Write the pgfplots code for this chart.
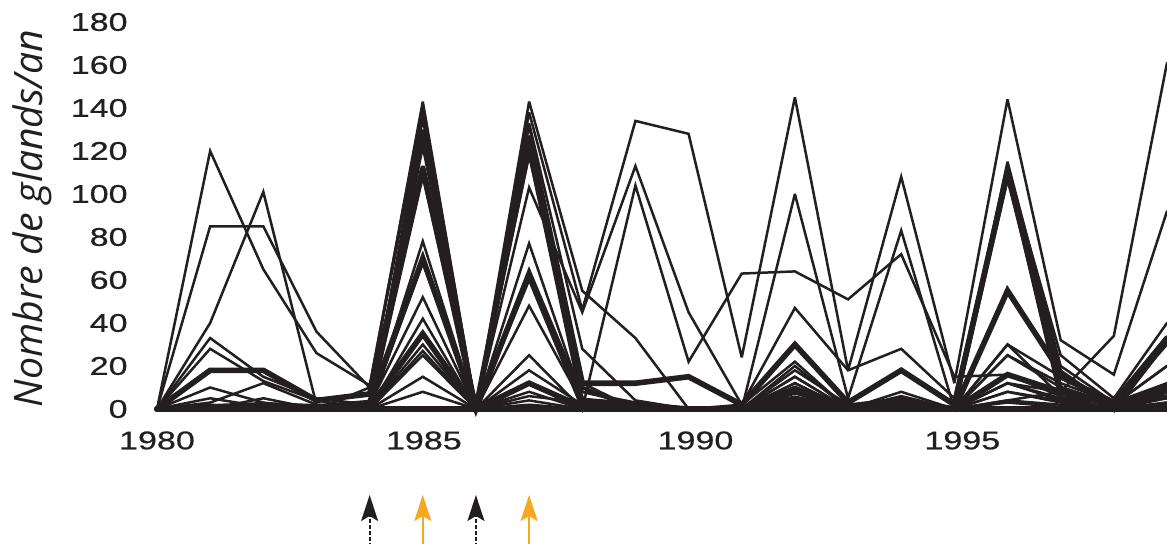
\documentclass[border=0pt]{standalone}
\usepackage{fontspec}
\usepackage{pgfplots}
\pgfplotsset{compat=1.18}
\usepackage{pgfplotstable}
\usetikzlibrary{arrows.meta}
\newfontfamily\tickfont[FakeStretch=1.33,FakeBold=0.6]{Liberation Sans}
\newfontfamily\labelfont{Open Sans}
\definecolor{ink}{HTML}{231F20}
\definecolor{gold}{RGB}{246,168,33}

\pgfplotstableread{
year P   A   B   C   D   E   H   G   I   J   K   L   M   N   O   R   U   Q   V   W   T1  T2  T3  Z
1980 0   0   0   0   0   0   0   0   0   0   0   0   0   0   0   0   0   0   0   0   0   0   0   0
1981 0   120 85  40  33  28  3   10  0   5   0   2   0   0   0   0   0   0   0   0   18  1   1   0
1982 0   65  85  101 15  13  12  3   5   1   0   0   0   0   0   0   0   0   0   2   18  2   1   0
1983 0   26  36  2   5   4   2   0   0   0   0   0   0   0   0   0   0   0   0   0   4   1   0   0
1984 10  11  10  0   2   0   0   0   0   2   0   0   0   0   0   0   0   0   0   0   7   3   1   0
1985 143 141 138 135 130 127 108 122 68  52  42  30  25  15  8   27  0   78  125 113 112 70  35  0
1986 0   0   1   0   0   0   0   0   0   0   0   0   0   0   0   0   0   0   0   0   0   0   0   0
1987 138 143 133 103 127 118 132 77  48  25  18  12  8   4   0   6   2   60  122 120 127 63  12  0
1988 46  55  28  45  12  8   8   5   3   0   2   0   0   0   0   3   0   0   10  3   12  4   1   0
1989 134 33  4   113 0   2   3   0   0   0   0   0   0   0   0   1   0   104 0   0   12  2   0   0
1990 128 0   0   45  0   0   0   0   0   0   0   0   0   0   0   0   0   22  0   0   15  0   0   0
1991 24  0   2   2   0   0   0   0   0   0   0   0   0   0   0   0   0   63  0   0   2   0   0   0
1992 145 100 47  22  18  15  10  12  8   5   20  3   15  2   0   12  5   64  10  4   30  8   5   0
1993 18  5   18  0   2   0   0   0   0   0   0   0   0   0   0   0   0   51  0   0   3   1   0   0
1994 108 83  28  8   5   3   2   5   1   0   6   0   0   0   0   3   0   72  2   0   18  4   3   0
1995 12  0   5   0   0   0   0   0   0   0   0   0   0   0   0   0   0   15  0   0   2   0   0   0
1996 144 115 112 30  25  12  114 8   30  12  8   4   25  3   0   12  4   16  110 108 110 55  16  0
1997 32  20  25  15  10  5   10  4   6   4   3   2   12  1   0   8   8   6   5   10  15  17  8   0
1998 16  3   5   2   0   0   2   0   0   0   0   0   3   0   0   2   34  2   0   2   3   0   2   0
1999 92  10  40  20  5   12  5   3   3   2   2   0   12  0   0   20  161 30  8   6   33  32  10  0
}\data

\newcommand{\tickfontsz}{\tickfont\fontsize{12.8}{14}\selectfont}

\begin{document}
\begin{tikzpicture}
\begin{axis}[
  width=505pt, height=193.5pt, scale only axis,
  xmin=1980, xmax=1999, ymin=0, ymax=180,
  clip=false,
  axis line style={draw=none},
  major tick length=0pt,
  ytick={0,20,...,180},
  xtick=\empty,
  /pgf/number format/assume math mode=true,
  tick label style={font=\tickfontsz, text=ink, inner sep=0pt},
  yticklabel style={anchor=east, xshift=-14.5pt},
  every axis plot/.append style={miter limit=4},
]
\coordinate (O) at (axis cs:1980,0);
\pgfplotsinvokeforeach{P,A,B,C,D,E,H,G,I,J,K,L,M,N,O,R,U,Q}{
  \addplot[ink, line width=1.25pt, line cap=round] table[x=year,y=#1]{\data};
}
\pgfplotsinvokeforeach{V,W}{
  \addplot[ink, line width=1.9pt, line cap=round] table[x=year,y=#1]{\data};
}
\pgfplotsinvokeforeach{T1,T2,T3}{
  \addplot[ink, line width=2.8pt, line cap=round] table[x=year,y=#1]{\data};
}
\addplot[ink, line width=3pt, line cap=round] table[x=year,y=Z]{\data};

\node[anchor=north, inner sep=0pt, font=\tickfontsz, text=ink] at ([yshift=-11pt]axis cs:1980,0) {1980};
\node[anchor=north, inner sep=0pt, font=\tickfontsz, text=ink] at ([yshift=-11pt]axis cs:1985.02,0) {1985};
\node[anchor=north, inner sep=0pt, font=\tickfontsz, text=ink] at ([yshift=-11pt]axis cs:1990.13,0) {1990};
\node[anchor=north, inner sep=0pt, font=\tickfontsz, text=ink] at ([yshift=-11pt]axis cs:1995.15,0) {1995};

\draw[ink, line width=0.9pt, dash pattern=on 1.8pt off 1.2pt,
  -{Stealth[length=13pt,width=8.5pt,inset=2.5pt]}] (axis cs:1984,-64) -- (axis cs:1984,-40);
\draw[ink, line width=0.9pt, dash pattern=on 1.8pt off 1.2pt,
  -{Stealth[length=13pt,width=8.5pt,inset=2.5pt]}] (axis cs:1986,-64) -- (axis cs:1986,-40);
\draw[gold, line width=1.1pt,
  -{Stealth[length=13pt,width=8.5pt,inset=2.5pt]}] (axis cs:1985,-64) -- (axis cs:1985,-40);
\draw[gold, line width=1.1pt,
  -{Stealth[length=13pt,width=8.5pt,inset=2.5pt]}] (axis cs:1987,-64) -- (axis cs:1987,-40);

\node[rotate=90, anchor=base, font=\labelfont\itshape\fontsize{19.6}{22}\selectfont, text=ink]
  at ([xshift=-57pt]axis cs:1980,88.5) {Nombre de glands/an};
\end{axis}
\pgfresetboundingbox
\path ([shift={(-78.5pt,-67pt)}]O) rectangle ++(583.5pt,271.5pt);
\end{tikzpicture}
\end{document}
